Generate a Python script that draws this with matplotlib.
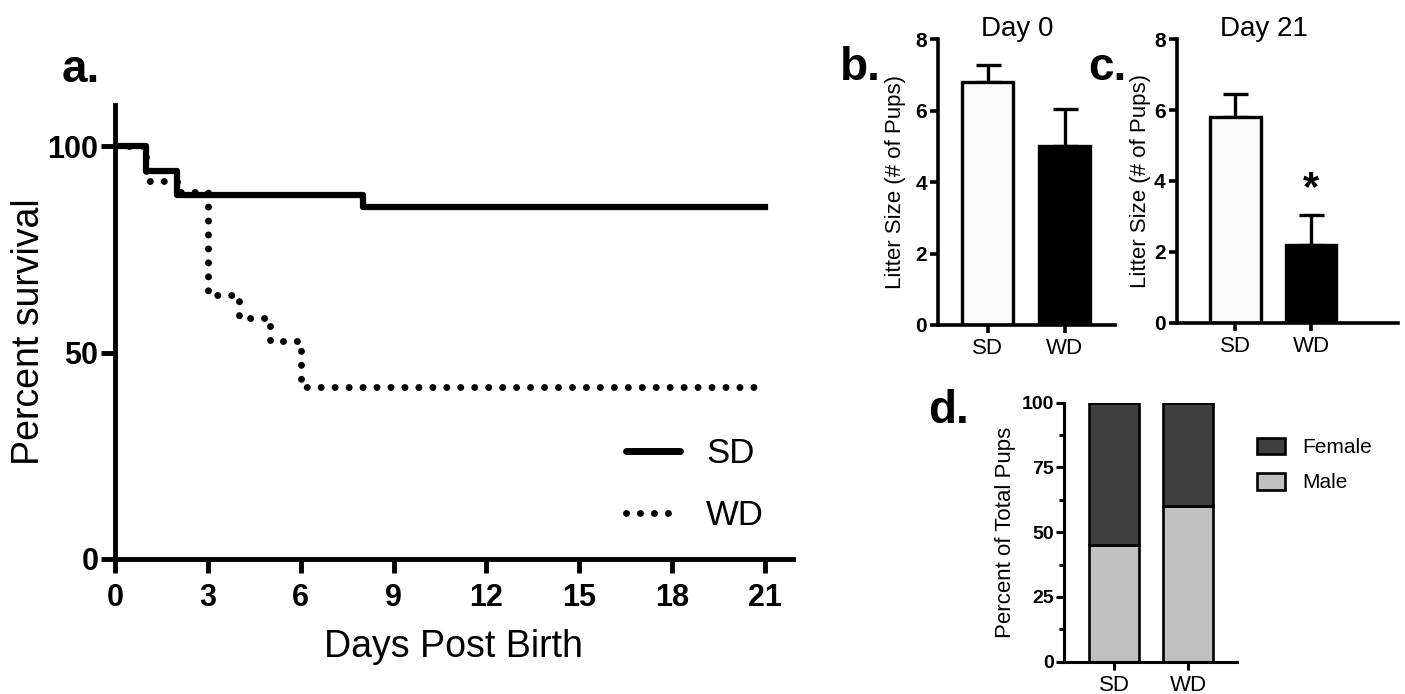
import numpy as np
import matplotlib
matplotlib.use("Agg")
import matplotlib.pyplot as plt
from matplotlib.lines import Line2D
from matplotlib.ticker import MultipleLocator

plt.rcParams['font.family'] = ['Liberation Sans', 'DejaVu Sans']

# ── Data ─────────────────────────────────────────────────────────────────────
sd_days = [0, 1, 2, 8, 21]
sd_surv = [100, 94.1, 88.2, 85.3, 85.3]
wd_days = [0, 1, 2, 3, 4, 5, 6, 21]
wd_surv = [100, 91.7, 88.9, 63.9, 58.3, 52.8, 41.7, 41.7]

groups = ["SD", "WD"]
day0_mean = [6.8, 5.0]
day0_err = [0.47, 1.05]
day21_mean = [5.8, 2.18]
day21_err = [0.67, 0.85]
male_pct = [45, 60]
female_pct = [55, 40]

W, H = 1405, 694
fig = plt.figure(figsize=(W / 100, H / 100), dpi=100)


def px_axes(left, right, top, bottom):
    return fig.add_axes([left / W, 1 - bottom / H, (right - left) / W, (bottom - top) / H])


def style(ax, lw, tl):
    for s in ["top", "right"]:
        ax.spines[s].set_visible(False)
    for s in ["left", "bottom"]:
        ax.spines[s].set_linewidth(lw)
    ax.tick_params(width=lw, length=tl, color="black")


# ── a. survival ──────────────────────────────────────────────────────────────
ax = px_axes(115, 115 + 21.9 * 30.95, 105, 559)
ax.step(wd_days, wd_surv, where="post", color="black", lw=5,
        linestyle=(0, (0.01, 2.0)), dash_capstyle="round", zorder=2)
ax.step(sd_days, sd_surv, where="post", color="black", lw=4.5, zorder=3)
ax.set_xlim(0, 21.9)
ax.set_ylim(0, 110)
ax.set_xticks(range(0, 22, 3))
ax.set_yticks([0, 50, 100])
style(ax, 3.5, 10)
ax.tick_params(axis="y", pad=2)
ax.tick_params(axis="x", pad=7)
for t in ax.get_xticklabels() + ax.get_yticklabels():
    t.set_fontsize(22)
    t.set_fontweight("bold")
ax.set_ylabel("Percent survival", fontsize=27)
ax.yaxis.set_label_coords(-0.101, 0.5)
ax.set_xlabel("Days Post Birth", fontsize=27)
ax.xaxis.set_label_coords(0.5, -0.155)
handles = [Line2D([], [], color="black", lw=5, solid_capstyle="round"),
           Line2D([], [], color="black", lw=5, linestyle=(0, (0.01, 2.0)),
                  dash_capstyle="round")]
ax.legend(handles, groups, fontsize=25, frameon=False, loc="center left",
          bbox_to_anchor=(626 / W, 1 - 484.5 / H), bbox_transform=fig.transFigure,
          borderpad=0, borderaxespad=0, handlelength=1.56, handletextpad=0.75,
          labelspacing=0.85)

# ── b./c. litter size ────────────────────────────────────────────────────────
def litter(ax, means, errs, title, tx, xl, xr):
    x = np.arange(len(groups))
    ax.errorbar(x, means, yerr=[np.zeros(len(errs)), errs], fmt="none",
                ecolor="black", elinewidth=2.4, capsize=9, capthick=2.4, zorder=1)
    ax.bar(x, means, width=0.66, color=["#fafafa", "black"], edgecolor="black",
           linewidth=2.4, zorder=2)
    ax.set_xlim(xl, xr)
    ax.set_ylim(0, 8)
    ax.set_yticks([0, 2, 4, 6, 8])
    ax.set_xticks(x)
    ax.set_xticklabels(groups)
    style(ax, 2.6, 6)
    ax.tick_params(axis="y", pad=2)
    for t in ax.get_yticklabels():
        t.set_fontsize(15)
        t.set_fontweight("bold")
    for t in ax.get_xticklabels():
        t.set_fontsize(16)
    ax.set_ylabel("Litter Size (# of Pups)", fontsize=16)
    ax.text(tx, 1.012, title, transform=ax.transAxes, ha="center", va="baseline",
            fontsize=20)


axb = px_axes(938, 1115, 39.3, 325)
litter(axb, day0_mean, day0_err, "Day 0", 0.449, -0.647, 1.657)
axb.yaxis.set_label_coords(-0.18, 0.5)

axc = px_axes(1176.7, 1398, 39.3, 322.7)
litter(axc, day21_mean, day21_err, "Day 21", 0.395, -0.774, 2.14)
axc.yaxis.set_label_coords(-0.116, 0.5)
axc.text(1, day21_mean[1] + day21_err[1] + 0.75, "*", ha="center", va="center",
         fontsize=30, fontweight="bold")

# ── d. sex ratio ─────────────────────────────────────────────────────────────
axd = px_axes(1064, 1236.7, 402.7, 661.7)
xd = np.arange(len(groups))
axd.bar(xd, male_pct, width=0.676, color="#c0c0c0", edgecolor="black",
        linewidth=1.9, label="Male")
axd.bar(xd, female_pct, bottom=male_pct, width=0.676, color="#404040",
        edgecolor="black", linewidth=1.9, label="Female")
axd.set_xlim(-0.676, 1.658)
axd.set_ylim(0, 100)
axd.set_yticks([0, 25, 50, 75, 100])
axd.yaxis.set_minor_locator(MultipleLocator(12.5))
axd.set_xticks(xd)
axd.set_xticklabels(groups)
style(axd, 2.2, 6)
axd.tick_params(axis="y", which="minor", width=2.2, length=3.5)
axd.tick_params(axis="y", pad=1)
for t in axd.get_yticklabels():
    t.set_fontsize(14)
    t.set_fontweight("bold")
for t in axd.get_xticklabels():
    t.set_fontsize(16)
axd.set_ylabel("Percent of Total Pups", fontsize=16)
axd.yaxis.set_label_coords(-0.277, 0.5)
h, l = axd.get_legend_handles_labels()
axd.legend(h[::-1], l[::-1], fontsize=15, frameon=False, loc="center left",
           bbox_to_anchor=(1257 / W, 1 - 465 / H), bbox_transform=fig.transFigure,
           borderpad=0, borderaxespad=0, handlelength=1.35, handleheight=0.87,
           handletextpad=0.8, labelspacing=0.75)

# ── panel letters ────────────────────────────────────────────────────────────
for txt, x, y in [("a.", 62, 82), ("b.", 840, 80), ("c.", 1088, 80), ("d.", 928, 423)]:
    fig.text(x / W, 1 - y / H, txt, fontsize=33, fontweight="bold",
             ha="left", va="baseline")

fig.savefig("out.png", dpi=100)
